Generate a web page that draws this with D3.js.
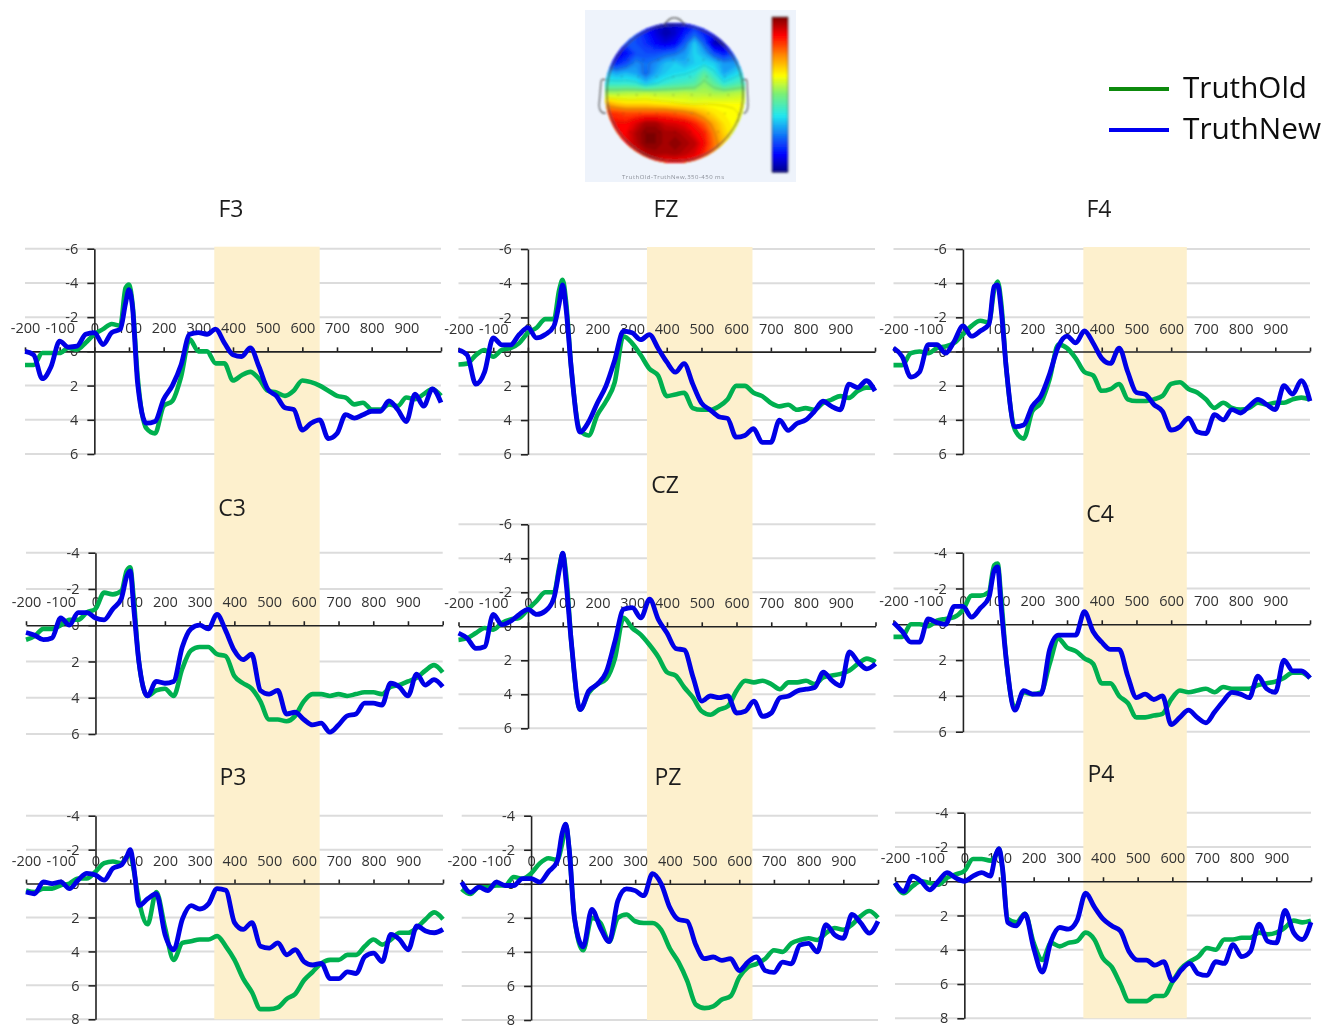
<!DOCTYPE html>
<html><head><meta charset="utf-8">
<script src="https://cdn.jsdelivr.net/npm/d3@7/dist/d3.min.js"></script>
<style>html,body{margin:0;padding:0;background:#fff}svg{display:block}</style></head>
<body><div id="chart"></div>
<script>
const times=[-200,-175,-150,-125,-100,-75,-50,-25,0,25,50,75,90,100,110,125,150,175,200,225,250,275,300,325,350,375,400,425,450,475,500,525,550,575,600,625,650,675,700,725,750,775,800,825,850,875,900,925,950,975,1000];
const xTickValues=[-200,-100,0,100,200,300,400,500,600,700,800,900,1000];
const seriesNames=["TruthOld","TruthNew"];
const electrodes=["F3","FZ","F4","C3","CZ","C4","P3","PZ","P4"];

const oldF3=[.8,.8,.1,.1,.1,-.2,-.1,-.5,-1,-1.3,-1.6,-1.5,-3.7,-3.9,-2.8,1.5,4.5,4.8,3.2,2.9,1.5,-.7,0,0,.7,.7,1.7,1.4,1.2,1.6,2.3,2.4,2.6,2.3,1.7,1.8,2,2.3,2.6,2.7,3.1,3,3.4,3.4,3.1,3.2,2.7,2.8,2.5,2.2,2.6];
const newF3=[0,.2,1.6,.9,-.6,-.25,-.3,-1,-1.1,-.4,-1.1,-1.3,-2.8,-3.6,-2.6,1.9,4.2,4.1,2.8,2,.8,-1,-1.1,-1,-1.3,-.5,.2,.3,-.2,.9,2.2,2.6,3.3,3.4,4.6,4.2,4,5.1,4.8,3.7,3.9,3.7,3.5,3.5,2.9,3.4,4.1,2.5,3.2,2.2,3];
const oldFZ=[.75,.7,.2,-.1,.3,-.1,-.2,-.5,-1.1,-1.4,-1.9,-1.9,-3.6,-4.2,-2.9,1,4.6,4.9,3.7,2.9,1.8,-.9,-.5,.2,1,1.4,2.6,2.5,2.4,3.3,3.4,3.4,3.2,2.8,2,2,2.4,2.6,3,3.2,3.1,3.4,3.3,3.4,3,2.8,2.6,2.7,2.3,2.1,2.1];
const newFZ=[-.1,.2,1.9,1.2,-.8,-.4,-.4,-1,-1.4,-.8,-1,-1.5,-2.8,-3.9,-2.5,1,4.7,4.1,3,2,.5,-1.2,-1.1,-.7,-1,-.2,.6,1.2,.7,1.9,3,3.4,3.8,3.9,5,4.9,4.5,5.3,5.3,4,4.6,4.2,4,3.5,2.9,3.2,3.4,1.9,2.1,1.7,2.3];
const oldF4=[.8,.8,.1,0,.1,-.2,-.3,-.5,-1,-1.5,-1.8,-1.7,-3.6,-4.1,-2.9,1,4.6,5.1,3.5,3,1.6,-.4,-.2,.4,1.2,1.4,2.3,2.2,1.9,2.8,2.9,2.9,2.8,2.6,1.9,1.8,2.2,2.4,2.8,3.3,3,3.3,3.4,3.3,3,3.1,3,3,2.8,2.7,2.8];
const newF4=[-.2,.3,1.5,1.2,-.4,-.4,.1,-.6,-1.5,-.9,-1.2,-1.6,-3.8,-3.9,-2.5,1,4.4,4.3,3.2,2.6,1.3,-.3,-.9,-.5,-1.2,-.5,.4,.7,-.2,1.2,2.4,2.5,3.1,3.5,4.6,4.4,3.9,4.7,4.8,3.7,4,3.4,3.6,3.2,2.8,3.1,3.4,2,2.5,1.7,2.9];
const oldC3=[.8,.6,.2,.2,0,-.3,-.3,-.7,-.9,-1.8,-1.7,-1.9,-3,-3.2,-1.5,2,3.9,3.6,3.5,3.9,2.4,1.4,1.2,1.2,1.6,1.7,2.8,3.2,3.5,4.2,5.2,5.2,5.3,5,4.2,3.8,3.8,3.9,3.8,3.9,3.8,3.7,3.7,3.8,3.4,3.3,3.1,2.9,2.5,2.2,2.6];
const newC3=[.4,.55,.8,.7,-.4,0,-.7,-.7,-.4,-.3,-.9,-1.5,-2.7,-3,-1,2,3.9,3.1,3.2,3.1,1.2,.2,0,.2,-.6,.3,1.4,1.9,1.6,3.6,3.8,3.6,4.9,4.8,5.2,5.5,5.4,5.9,5.5,5,4.9,4.3,4.3,4.4,3.2,3.4,3.9,2.7,3.3,3,3.4];
const oldCZ=[.8,.7,.4,.1,.2,-.2,-.4,-.5,-1,-1.5,-2,-2,-3.5,-4.3,-3,1,4.9,3.9,3.4,3.1,1.9,-.5,.1,.5,1.1,1.8,2.7,2.9,3.6,4.2,5,5.2,4.9,4.7,3.8,3.2,3.3,3.2,3.4,3.7,3.3,3.3,3.2,3.4,3,2.9,2.8,2.6,2.2,1.9,2.1];
const newCZ=[.4,.7,1.3,1.2,-.7,-.1,-.3,-.7,-1,-.7,-.9,-1.7,-3.3,-4.3,-2.5,1,4.9,3.8,3.4,2.7,.9,-1,-1.1,-.5,-1.6,-.4,.4,1.3,1.4,3,4.4,4.1,4.2,4.1,5.1,5,4.4,5.3,5.1,4.2,4.1,3.8,3.7,3.6,2.7,3.2,3.5,1.5,2.1,2.5,2.2];
const oldC4=[.7,.7,0,0,.1,-.2,-.3,-.4,-.8,-1.6,-1.6,-1.8,-3.3,-3.4,-1.5,2,4.7,3.8,3.9,3.8,2.2,.8,1.3,1.5,1.9,2.2,3.3,3.3,4,4.4,5.2,5.2,5.1,5,4.2,3.7,3.8,3.7,3.6,3.8,3.5,3.6,3.6,3.6,3.4,3.3,3.2,3,2.7,2.7,3];
const newC4=[-.1,.4,1,1,-.3,-.1,0,-1,-1,-.4,-.9,-1.5,-3,-3.2,-1,2,4.8,3.7,3.9,3.9,1.4,.6,.6,.6,-.7,.4,1,1.4,1.4,2.9,4.1,3.9,4.2,4,5.6,5.2,4.8,5.2,5.5,4.9,4.3,3.8,3.9,4.1,2.9,3.6,3.8,2,2.6,2.6,3];
const oldP3=[.4,.5,.3,.3,.1,0,-.3,-.3,-.7,-1.2,-1.3,-1.2,-1.6,-1.7,-.8,1,2.4,.5,2.6,4.5,3.5,3.4,3.3,3.3,3.1,3.7,4.5,5.6,6.4,7.4,7.4,7.3,6.8,6.5,5.7,5.2,4.7,4.5,4.5,4.2,4.2,3.7,3.3,3.6,3.3,2.9,2.9,2.6,2.1,1.7,2.1];
const newP3=[.5,.6,-.1,0,-.1,.3,-.2,-.6,-.5,-.2,-.9,-1.1,-1.6,-2,-1,1.3,.9,.6,3,3.9,2.1,1.3,1.5,1.2,.3,.4,2.3,2.7,2.3,3.7,3.8,3.5,4.2,3.9,4.6,4.8,4.7,5.6,5.6,5.2,5.3,4.3,4.1,4.6,3,3.3,3.9,2.5,2.8,2.9,2.7];
const oldPZ=[.3,.6,.2,.2,.1,.1,-.4,-.3,-.6,-1.2,-1.5,-1.4,-2.4,-3.5,-2,2,3.9,2,2.3,3.4,2,1.8,2.2,2.3,2.3,2.7,3.8,4.6,5.7,7.1,7.3,7.2,6.8,6.6,5.5,4.9,4.7,4.4,3.9,4,3.5,3.3,3.2,3.3,2.9,2.6,2.7,2.4,1.9,1.6,2];
const newPZ=[-.1,.5,.2,.4,-.1,.1,.1,-.3,-.3,-.1,-.7,-1.3,-3,-3.5,-2,2,3.7,1.5,2.6,3.4,1,.3,.4,.7,-.6,0,1.4,2.1,2.2,3.6,4.4,4.3,4.5,4.4,5.1,4.6,4.3,5.1,5.2,4.6,4.7,3.6,3.5,4,2.4,3,3.2,1.8,2.3,2.9,2.2];
const oldP4=[.1,.7,.3,0,.1,.2,-.2,-.4,-.6,-1.3,-1.3,-1.2,-1.5,-1.9,-.7,2.2,2.4,1.9,3.6,4.6,3.6,3.8,3.6,3.5,3,3.4,4.5,5,6,7,7,7,6.7,6.7,5.9,5.1,4.7,4.4,3.9,4,3.4,3.4,3.3,3.3,3,3.1,3,2.7,2.3,2.4,2.3];
const newP4=[.1,.6,-.3,0,.5,0,-.5,-.2,0,-.3,-.5,-.3,-1.5,-1.9,-.8,2.4,2.6,1.9,3.9,5.3,3.5,2.7,2.8,2.3,.7,1.5,2.2,2.6,2.9,4.1,4.6,4.6,4.9,4.7,5.8,5.2,4.8,5.4,5.5,4.7,4.8,3.7,4.4,4.1,2.5,3.5,3.6,1.7,3,3.4,2.4];

const oldSeries=[oldF3,oldFZ,oldF4,oldC3,oldCZ,oldC4,oldP3,oldPZ,oldP4];
const newSeries=[newF3,newFZ,newF4,newC3,newCZ,newC4,newP3,newPZ,newP4];
const yDomains=[[-6,6],[-6,6],[-6,6],[-4,6],[-6,6],[-4,6],[-4,8],[-4,8],[-4,8]];
const bandSpans=[[346,650],[343,647],[347,645]];

const topoRows=[
[.2,.2,.2,.18,.16,.08,.06,.08,.1,.14,.18,.18,.2,.2,.2],
[.27,.26,.22,.2,.15,.09,.04,.07,.15,.22,.15,.12,.18,.25,.25],
[.25,.2,.2,.2,.17,.12,.09,.12,.22,.34,.22,.05,.05,.18,.3],
[.13,.08,.13,.2,.2,.2,.22,.24,.28,.35,.3,.2,.14,.2,.28],
[.2,.15,.2,.27,.24,.27,.32,.34,.31,.34,.36,.34,.28,.28,.32],
[.33,.3,.32,.3,.23,.3,.34,.36,.37,.39,.46,.39,.3,.34,.38],
[.4,.4,.4,.39,.33,.37,.4,.42,.43,.45,.52,.46,.39,.42,.45],
[.55,.55,.56,.56,.57,.56,.56,.56,.57,.56,.56,.55,.55,.56,.57],
[.72,.68,.66,.66,.66,.65,.64,.63,.62,.61,.62,.62,.62,.62,.62],
[.84,.84,.82,.82,.82,.82,.82,.8,.78,.75,.7,.66,.64,.63,.62],
[.88,.88,.88,.92,.97,.97,.93,.92,.9,.86,.8,.72,.66,.63,.62],
[.88,.88,.9,.96,1,1,.97,.97,.95,.9,.86,.76,.68,.63,.62],
[.88,.88,.9,.95,1,1,.97,1,.97,.95,.88,.78,.7,.65,.62],
[.8,.85,.88,.9,.95,.97,.96,.97,.95,.92,.85,.78,.7,.66,.62],
[.8,.82,.85,.87,.88,.88,.88,.88,.87,.85,.8,.75,.7,.66,.62]];
const topoStops=[0,.11,.36,.5,.62,.75,.88,1];
const topoColors=["#00008a","#0000ff","#22e6f0","#78f078","#ffff00","#ff8a00","#ff0000","#7a0000"];
const electrodeRows=[[145,190,235,280,325,370,415],[125,175,230,280,330,380,435],[115,170,225,280,335,390,445],[130,180,230,285,335,385,435],[150,195,240,285,330,375,415]];
const electrodeRowY=[180,230,285,340,395];

// layout, kept apart from the values
const frames=[
 {x:[25,441],y:[248.7,454],t:[231,217]},{x:[458.5,875],y:[249,454.3],t:[666,217]},{x:[893.5,1310],y:[249,454],t:[1099,217]},
 {x:[26,442.7],y:[552.7,734],t:[232,516]},{x:[458.5,875.5],y:[524.3,728.3],t:[665,493]},{x:[893.5,1310],y:[552.7,731.7],t:[1100,522]},
 {x:[26,443],y:[815.7,1019.3],t:[233,785]},{x:[461.7,878],y:[815.7,1020],t:[668,785]},{x:[895,1311],y:[812.7,1018.3],t:[1101,782]}];
const font='"Open Sans",sans-serif';
const green="#00b050", blue="#0000e6";

const svg=d3.select("#chart").append("svg").attr("width",1338).attr("height",1026).style("background","#fff");
const defs=svg.append("defs");
defs.append("filter").attr("id","soft").attr("filterUnits","userSpaceOnUse").attr("x",0).attr("y",0).attr("width",1338).attr("height",1026)
  .append("feGaussianBlur").attr("stdDeviation",.55);
defs.append("filter").attr("id","softer").attr("filterUnits","userSpaceOnUse").attr("x",585).attr("y",10).attr("width",211).attr("height",172)
  .append("feGaussianBlur").attr("stdDeviation",.8);
defs.append("clipPath").attr("id","disc").append("circle").attr("cx",675).attr("cy",93).attr("r",70);

const root=svg.append("g").attr("filter","url(#soft)");
const scales=frames.map((f,i)=>({
  x:d3.scaleLinear().domain([-200,1000]).range(f.x),
  y:d3.scaleLinear().domain(yDomains[i]).range(f.y)}));

const gridLayer=root.append("g"), bandLayer=root.append("g"), axisLayer=root.append("g"), lineLayer=root.append("g");
scales.forEach((s,i)=>{
  gridLayer.append("g").selectAll("line").data(d3.range(yDomains[i][0],yDomains[i][1]+1,2).filter(v=>v!==0)).join("line")
    .attr("x1",s.x(-200)).attr("x2",s.x(1000)).attr("y1",d=>s.y(d)).attr("y2",d=>s.y(d))
    .attr("stroke","#dcdcdc").attr("stroke-width",2);
});
bandSpans.forEach((b,c)=>{
  const top=scales[c], bottom=scales[c+6];
  bandLayer.append("rect").attr("x",top.x(b[0])).attr("width",top.x(b[1])-top.x(b[0]))
    .attr("y",top.y(-6)-2).attr("height",bottom.y(8)-top.y(-6)+2).attr("fill","#fdf0cd");
});
const line=s=>d3.line().x((d,i)=>s.x(times[i])).y(d=>s.y(d)).curve(d3.curveMonotoneX);
scales.forEach((s,i)=>{
  const gx=axisLayer.append("g").attr("transform",`translate(0,${s.y(0)})`)
    .call(d3.axisTop(s.x).tickValues(xTickValues).tickSize(4).tickSizeOuter(0).tickPadding(14).tickFormat(d=>d===1000?"":String(d)));
  const gy=axisLayer.append("g").attr("transform",`translate(${s.x(0)},0)`)
    .call(d3.axisLeft(s.y).tickValues(d3.range(yDomains[i][0],yDomains[i][1]+1,2)).tickSize(7).tickSizeOuter(0).tickPadding(9).tickFormat(d=>String(d)));
  [gx,gy].forEach(g=>{
    g.selectAll("path,line").attr("stroke","#222").attr("stroke-width",1.6);
    g.selectAll("text").attr("fill","#333").style("font",`14.5px ${font}`);
  });
  lineLayer.append("path").datum(oldSeries[i]).attr("d",line(s)).attr("fill","none").attr("stroke",green).attr("stroke-width",4.6).attr("stroke-linejoin","round");
  lineLayer.append("path").datum(newSeries[i]).attr("d",line(s)).attr("fill","none").attr("stroke",blue).attr("stroke-width",4.8).attr("stroke-linejoin","round");
  root.append("text").attr("x",frames[i].t[0]).attr("y",frames[i].t[1]).attr("text-anchor","middle")
    .style("font",`23px ${font}`).attr("fill","#1e1e1e").text(electrodes[i]);
});

const legend=root.append("g");
[[89,"#0a8a0a",98,124],[130,"#0000f0",139,138]].forEach((r,i)=>{
  legend.append("line").attr("x1",1109).attr("x2",1169).attr("y1",r[0]).attr("y2",r[0]).attr("stroke",r[1]).attr("stroke-width",4);
  legend.append("text").attr("x",1183).attr("y",r[2]).style("font",`30px ${font}`).attr("fill","#111")
    .attr("textLength",r[3]).attr("lengthAdjust","spacingAndGlyphs").text(seriesNames[i]);
});

const jet=d3.scaleLinear().domain(topoStops).range(topoColors).clamp(true);
root.append("rect").attr("x",585).attr("y",10).attr("width",211).attr("height",172).attr("fill","#eef3fb");
const map=root.append("g").attr("filter","url(#softer)");
const nx=topoRows[0].length, ny=topoRows.length;
const mapX=d3.scaleLinear().domain([.5,nx-.5]).range([606.7,743.3]);
const mapY=d3.scaleLinear().domain([.5,ny-.5]).range([23.3,163.3]);
const contourPath=d3.geoPath(d3.geoTransform({point(x,y){this.stream.point(mapX(x),mapY(y));}}));
const bands=d3.contours().size([nx,ny]).smooth(true).thresholds(d3.range(0,1.0001,.02))(topoRows.flat());
const clip=map.append("g").attr("clip-path","url(#disc)");
clip.append("circle").attr("cx",675).attr("cy",93).attr("r",70).attr("fill",jet(.25));
clip.selectAll("path.band").data(bands).join("path").attr("class","band").attr("d",contourPath)
  .attr("fill",d=>jet(d.value)).attr("stroke",d=>jet(d.value)).attr("stroke-width",.5);
const isos=d3.contours().size([nx,ny]).smooth(true).thresholds([.25,.375,.5,.625,.75,.875])(topoRows.flat());
clip.selectAll("path.iso").data(isos).join("path").attr("class","iso").attr("d",contourPath)
  .attr("fill","none").attr("stroke","#3c3c3c").attr("stroke-opacity",.3).attr("stroke-width",.8);
const dotX=d3.scaleLinear().domain([0,690]).range([580,810]);
const dotY=d3.scaleLinear().domain([0,570]).range([0,190]);
electrodeRows.forEach((row,r)=>{
  clip.append("g").selectAll("circle").data(row).join("circle")
    .attr("cx",d=>dotX(d)).attr("cy",dotY(electrodeRowY[r])).attr("r",.7).attr("fill","#333").attr("fill-opacity",.5);
});
const headLines=map.append("g").attr("fill","none").attr("stroke","#4a4a4a").attr("stroke-width",1.1);
headLines.append("circle").attr("cx",675).attr("cy",93).attr("r",68);
headLines.append("path").attr("d","M664,25 Q670,17 674,18 Q679,17 685,25");
headLines.append("path").attr("d","M606,80 Q601,78 601,82 L599,106 Q600,114 606,113");
headLines.append("path").attr("d","M743,80 Q747,78 747,82 L748,106 Q747,114 743,113");

const barY=d3.scaleLinear().domain([0,1]).range([172,17]);
const barG=map.append("g");
barG.selectAll("rect").data(d3.range(0,1,.01)).join("rect")
  .attr("x",772).attr("width",16).attr("y",d=>barY(d+.01)).attr("height",d=>barY(d)-barY(d+.01)+.6).attr("fill",d=>jet(d));
barG.append("rect").attr("x",772).attr("y",17).attr("width",16).attr("height",155).attr("fill","none").attr("stroke","#444").attr("stroke-width",.7);
root.append("text").attr("x",673).attr("y",179).attr("text-anchor","middle").style("font",`6px ${font}`)
  .attr("fill","#8b8f98").attr("textLength",102).text("TruthOld-TruthNew,350-450 ms");
</script></body></html>
